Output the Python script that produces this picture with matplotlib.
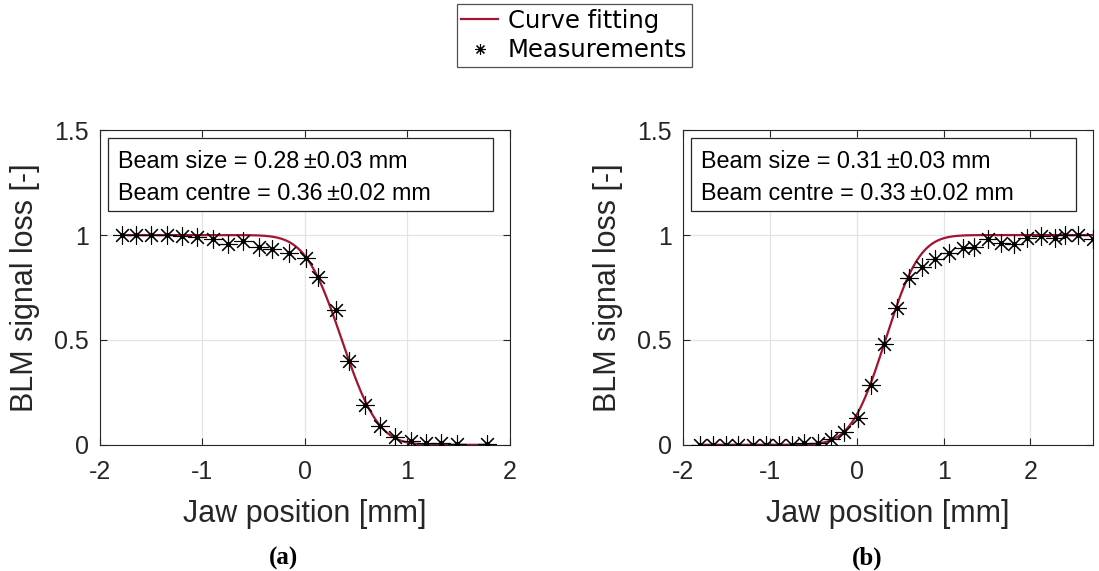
import math
import numpy as np
import matplotlib
matplotlib.use("Agg")
import matplotlib.pyplot as plt
from matplotlib.patches import Rectangle

# panel (a): jaw moving out, loss falls
xa = [-1.79, -1.65, -1.50, -1.345, -1.20, -1.05, -0.90, -0.75, -0.60, -0.45,
      -0.32, -0.16, 0.01, 0.13, 0.30, 0.43, 0.59, 0.73, 0.88, 1.03,
      1.18, 1.33, 1.48, 1.78]
ya = [1.0, 1.0, 1.0, 1.0, 0.994, 0.99, 0.98, 0.956, 0.971, 0.943,
      0.932, 0.916, 0.892, 0.802, 0.641, 0.40, 0.19, 0.09, 0.038, 0.019,
      0.011, 0.008, 0.003, 0.003]
size_a, centre_a = 0.28, 0.36

# panel (b): jaw moving in, loss rises
xb = [-1.81, -1.65, -1.50, -1.365, -1.20, -1.05, -0.90, -0.74, -0.61, -0.45,
      -0.30, -0.15, 0.01, 0.16, 0.31, 0.46, 0.60, 0.75, 0.90, 1.06,
      1.22, 1.35, 1.51, 1.66, 1.81, 1.96, 2.12, 2.28, 2.40, 2.55, 2.72]
yb = [0.0, 0.0, 0.0, 0.0, 0.0, 0.0, 0.0, 0.0, 0.011, 0.011,
      0.027, 0.059, 0.127, 0.286, 0.479, 0.654, 0.797, 0.848, 0.884, 0.916,
      0.937, 0.943, 0.979, 0.962, 0.956, 0.984, 0.994, 0.987, 1.0, 1.0, 0.98]
size_b, centre_b = 0.31, 0.33

erf = np.vectorize(math.erf)
red = "#A2142F"
dark = "#262626"
sans = ["Liberation Sans", "DejaVu Sans"]

fig = plt.figure(figsize=(10.99, 5.71), dpi=100)
ax1 = fig.add_axes([0.0910, 0.221, 0.373, 0.551])
ax2 = fig.add_axes([0.6215, 0.221, 0.373, 0.551])

panels = [
    (ax1, xa, ya, size_a, centre_a, -1, (-2, 2), 0.258, "(a)"),
    (ax2, xb, yb, size_b, centre_b, 1, (-2, 2.72), 0.789, "(b)"),
]

for ax, x, y, sig, mu, sgn, xlim, capx, tag in panels:
    # erf fit from the beam size / centre shown in the box
    xs = np.linspace(min(x), max(x), 500)
    fit = 0.5 * (1 + sgn * erf((xs - mu) / (math.sqrt(2) * sig)))
    ax.plot(xs, fit, color=red, lw=1.6, zorder=2, label="Curve fitting")
    ax.plot(x, y, ls="none", marker=(8, 2, 0), ms=13, mew=0.8, color="k",
            zorder=3, label="Measurements")
    ax.plot(x, y, ls="none", marker="o", ms=2.5, color="k", zorder=4)
    ax.set_xlim(*xlim)
    ax.set_ylim(0, 1.5)
    ax.set_xticks([-2, -1, 0, 1, 2])
    ax.set_xticklabels(["-2", "-1", "0", "1", "2"])
    ax.set_yticks([0, 0.5, 1, 1.5])
    ax.set_yticklabels(["0", "0.5", "1", "1.5"])
    ax.grid(True, color="#e4e4e4", lw=0.9)
    ax.set_axisbelow(True)
    ax.tick_params(direction="in", top=True, right=True, length=5,
                   width=0.8, color=dark, labelsize=18, labelcolor=dark)
    ax.tick_params(axis="x", pad=11)
    ax.tick_params(axis="y", pad=8)
    for lbl in ax.get_xticklabels() + ax.get_yticklabels():
        lbl.set_family(sans)
    for s in ax.spines.values():
        s.set_color(dark)
        s.set_linewidth(0.8)
    ax.set_xlabel("Jaw position [mm]", fontsize=22, family=sans, color=dark,
                  labelpad=11)
    ax.set_ylabel("BLM signal loss [-]", fontsize=22, family=sans, color=dark,
                  labelpad=10)
    ax.add_patch(Rectangle((0.0195, 0.743), 0.939, 0.2316, transform=ax.transAxes,
                           fc="white", ec=dark, lw=0.9, zorder=5))
    ax.text(0.045, 0.90, f"Beam size = {sig:.2f}\u2009\u00b10.03 mm",
            transform=ax.transAxes, ha="left", va="center", fontsize=16.8,
            family=sans, color="k", zorder=6)
    ax.text(0.045, 0.80, f"Beam centre = {mu:.2f}\u2009\u00b10.02 mm",
            transform=ax.transAxes, ha="left", va="center", fontsize=16.8,
            family=sans, color="k", zorder=6)
    fig.text(capx, 0.002, tag, ha="center", va="bottom",
             fontsize=18, fontweight="bold", family="Liberation Serif")

h, l = ax1.get_legend_handles_labels()
leg = fig.legend(h, l, loc="upper center", bbox_to_anchor=(0.5225, 0.993),
                 prop={"family": "DejaVu Sans", "size": 17.5}, frameon=True,
                 fancybox=False, edgecolor=dark, handlelength=1.5,
                 borderpad=0.2, labelspacing=0.22, handletextpad=0.4,
                 markerscale=0.6, borderaxespad=0)
leg.get_frame().set_linewidth(0.9)

fig.savefig("out.png", dpi=100)
